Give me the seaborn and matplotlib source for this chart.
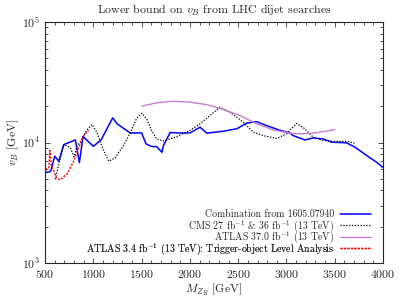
import matplotlib
matplotlib.use("Agg")
import matplotlib.pyplot as plt
import matplotlib.ticker as mticker
import seaborn as sns

# Combination from 1605.07940
blue_m = [500, 545, 560, 600, 642, 693, 814, 855, 893, 1000, 1080, 1200, 1245, 1380,
          1500, 1545, 1605, 1655, 1710, 1725, 1795, 1880, 2000, 2105, 2175, 2345, 2485,
          2590, 2690, 2795, 2935, 3035, 3070, 3190, 3275, 3380, 3470, 3620, 3710, 3830,
          3935, 4000]
blue_v = [5650, 5700, 5860, 7700, 7000, 9600, 10500, 6800, 11200, 9300, 10500, 16000,
          14300, 12000, 12000, 9750, 9250, 9250, 8300, 9400, 12100, 12000, 12000, 13400,
          11950, 12400, 13000, 14500, 14900, 13800, 12600, 12000, 11400, 10500, 10900,
          10700, 10050, 9950, 9150, 7800, 6850, 6200]

# CMS 27 & 36 fb^-1
cms_m = [605, 655, 695, 760, 800, 830, 865, 930, 985, 1035, 1105, 1160, 1225, 1310,
         1380, 1450, 1505, 1555, 1605, 1655, 1725, 1795, 1865, 2000, 2105, 2310, 2415,
         2555, 2655, 2760, 2900, 3000, 3105, 3190, 3275, 3380, 3520, 3620, 3710]
cms_v = [4950, 7300, 9600, 9100, 7600, 9400, 10100, 12600, 14100, 12200, 8600, 7000,
         7450, 9400, 11900, 16000, 17500, 15500, 12500, 10700, 10300, 10700, 11200,
         12600, 14300, 19600, 17800, 14700, 12200, 11400, 10800, 11800, 14400, 13000,
         11100, 10400, 10200, 10250, 9850]

# ATLAS 37.0 fb^-1
atlas_m = [1500, 1650, 1830, 2000, 2175, 2320, 2520, 2690, 2865, 3035, 3140, 3275,
           3380, 3500]
atlas_v = [20000, 21300, 22000, 21600, 20600, 19100, 16700, 14300, 12700, 11950,
           11800, 11950, 12300, 12800]

# ATLAS 3.4 fb^-1 TLA
tla_m = [500, 540, 550, 565, 580, 620, 655, 730, 800, 850, 900, 950]
tla_v = [6000, 6200, 8600, 6300, 6100, 5050, 4900, 5500, 7100, 9150, 11400, 12600]

labels = [
    "Combination from 1605.07940",
    r"CMS 27 fb$^{-1}$ & 36 fb$^{-1}$ (13 TeV)",
    r"ATLAS 37.0 fb$^{-1}$ (13 TeV)",
    r"ATLAS 3.4 fb$^{-1}$ (13 TeV): Trigger-object Level Analysis",
]

sns.set_style("ticks")
plt.rcParams["font.family"] = ["cmr10", "DejaVu Serif"]
plt.rcParams["mathtext.fontset"] = "cm"
plt.rcParams["axes.formatter.use_mathtext"] = True
plt.rcParams["axes.unicode_minus"] = False

fig = plt.figure(figsize=(3.99, 3.0), dpi=100)
ax = fig.add_axes([0.113, 0.123, 0.847, 0.804])

sns.lineplot(x=blue_m, y=blue_v, ax=ax, color="#0000ff", lw=1.1, label=labels[0],
             sort=False, estimator=None)
sns.lineplot(x=cms_m, y=cms_v, ax=ax, color="black", lw=0.9, ls=(0, (1, 1.3)),
             label=labels[1], sort=False, estimator=None)
sns.lineplot(x=atlas_m, y=atlas_v, ax=ax, color="#c77dd0", lw=1.0, label=labels[2],
             sort=False, estimator=None)
sns.lineplot(x=tla_m, y=tla_v, ax=ax, color="#ff0000", lw=1.0, ls=(0, (1.5, 1)),
             label=labels[3], sort=False, estimator=None)

ax.set_yscale("log")
ax.set_xlim(500, 4000)
ax.set_ylim(1e3, 1e5)
ax.xaxis.set_major_locator(mticker.MultipleLocator(500))
ax.xaxis.set_minor_locator(mticker.MultipleLocator(100))
ax.tick_params(which="both", direction="in", top=True, right=True, labelsize=8.5,
               width=0.6, color="#333333")
ax.tick_params(which="major", length=3.5)
ax.tick_params(which="minor", length=2)
for s in ax.spines.values():
    s.set_linewidth(0.8)

ax.set_xlabel(r"$M_{Z_B}$ [GeV]", fontsize=8.5, labelpad=1)
ax.set_ylabel(r"$v_B$ [GeV]", fontsize=8.5, labelpad=1)
ax.set_title(r"Lower bound on $v_B$ from LHC dijet searches", fontsize=8.6, pad=5.5)

# one legend per row so the rows are evenly spaced
handles, labs = ax.get_legend_handles_labels()
ax.get_legend().remove()
row_y = [0.202, 0.154, 0.107, 0.059]
for h, lab, yc in zip(handles, labs, row_y):
    leg = ax.legend([h], [lab], loc="center right", bbox_to_anchor=(0.963, yc),
                    frameon=False, fontsize=7.1, markerfirst=False,
                    handlelength=3.1, handletextpad=0.6, borderpad=0,
                    borderaxespad=0)
    ax.add_artist(leg)

fig.savefig("out.png", dpi=100)
